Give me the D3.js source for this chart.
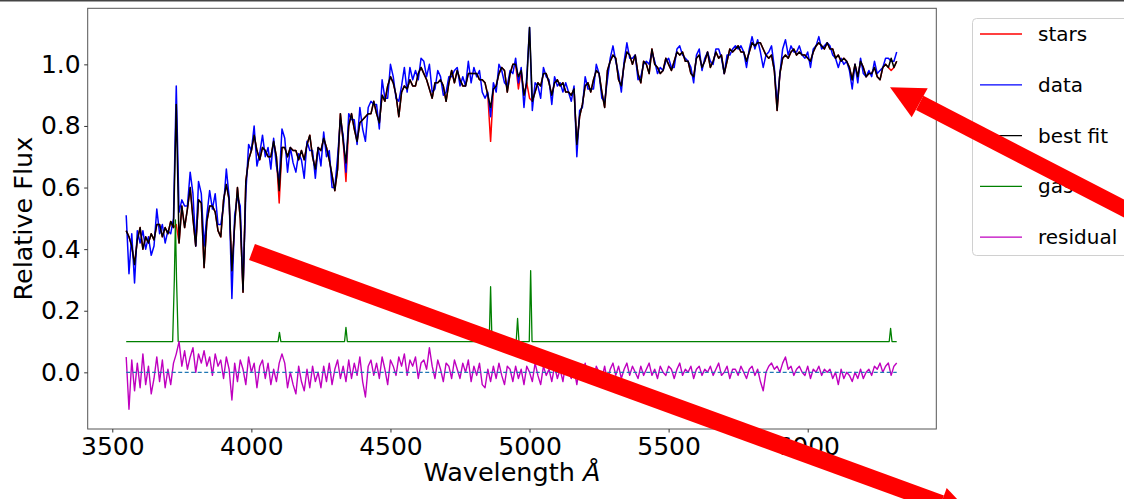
<!DOCTYPE html>
<html>
<head>
<meta charset="utf-8">
<script src="https://cdn.jsdelivr.net/npm/d3@7"></script>
<style>
  body { margin: 0; background: #fff; }
  svg { display: block; font-family: "DejaVu Sans", sans-serif; }
</style>
</head>
<body>
<svg id="chart" width="1124" height="499"></svg>
<script>
// Spectrum sampled every 10 A from 3550 to 6320 A
var waveStart = 3550, waveEnd = 6320, waveStep = 10;
var wave = d3.range(waveStart, waveEnd + 1, waveStep);

// Observed spectrum (blue)
var flux = [
  .51,.32,.45,.29,.46,.42,.46,.40,.44,.38,
  .41,.53,.45,.48,.42,.46,.45,.50,.93,.52,
  .56,.54,.54,.65,.58,.41,.62,.58,.41,.51,
  .59,.53,.58,.48,.48,.54,.66,.57,.24,.51,
  .57,.54,.27,.58,.74,.72,.80,.67,.71,.77,
  .70,.73,.66,.76,.67,.62,.79,.76,.65,.73,
  .68,.65,.71,.69,.63,.75,.72,.72,.63,.73,
  .67,.78,.70,.72,.60,.60,.70,.82,.77,.65,
  .84,.82,.82,.74,.86,.79,.75,.86,.88,.87,
  .87,.79,.95,.89,.89,1.00,.96,.89,.88,.93,
  .99,.91,.99,.95,.98,.95,1.02,1.01,.96,1.00,
  .91,.92,.98,.96,.90,.91,.96,.96,.98,.99,
  .93,.96,.93,1.01,.94,.99,.96,.98,.91,.89,
  .91,.83,.94,.91,1.00,.98,.94,.93,.98,.97,
  1.02,.94,.99,.86,.96,1.12,.85,.94,.93,.89,
  .99,.96,.95,.87,.96,.93,.94,.91,.94,.91,
  .88,.93,.70,.85,.86,.96,.92,.92,.92,1.00,
  .97,.89,.88,.95,1.02,1.06,1.01,.97,.91,1.01,
  1.07,1.02,1.02,1.03,.95,.96,1.00,1.01,1.00,1.04,
  1.01,.97,.99,.98,1.01,1.02,.99,.99,1.05,1.06,
  1.03,1.02,1.01,.99,.94,1.03,1.05,.98,1.02,1.04,
  1.01,1.00,1.05,1.05,1.02,.97,1.03,1.03,1.05,1.06,
  1.05,1.06,1.04,.99,1.05,1.09,1.05,1.08,1.04,.99,
  1.03,1.04,1.06,.99,.87,.97,1.05,1.08,1.03,1.06,
  1.04,1.04,1.06,1.03,1.02,1.04,.99,1.05,1.06,1.09,
  1.05,1.06,1.07,1.06,1.03,1.02,.99,1.02,1.00,1.01,
  .98,.92,1.00,.94,1.02,.97,.96,.98,.96,1.01,
  .97,.98,.99,1.02,1.02,1.01,1.01,1.04
];

// Best fit (black)
var bestFit = [
  .46,.44,.41,.35,.43,.47,.40,.44,.42,.45,
  .43,.48,.48,.44,.47,.45,.49,.47,.87,.42,
  .54,.47,.53,.60,.50,.41,.56,.55,.34,.49,
  .54,.54,.52,.46,.44,.56,.61,.56,.33,.48,
  .60,.50,.26,.62,.69,.72,.77,.72,.69,.73,
  .72,.70,.70,.75,.70,.59,.73,.73,.70,.73,
  .72,.72,.69,.72,.69,.74,.77,.70,.66,.73,
  .72,.76,.73,.69,.64,.59,.66,.84,.75,.68,
  .80,.84,.79,.75,.81,.82,.83,.84,.84,.88,
  .84,.81,.90,.88,.93,.96,.94,.90,.83,.91,
  .93,.92,.95,.93,.93,.97,.99,.97,.95,.92,
  .89,.94,.94,.95,.93,.88,.94,.98,.94,.98,
  .95,.93,.93,.97,.97,.97,.97,.95,.95,.94,
  .90,.86,.92,.93,.97,.99,.98,.91,.97,1.00,
  1.00,.96,.98,.90,.94,1.12,.88,.91,.94,.93,
  .97,.97,.94,.90,.94,.95,.93,.94,.91,.91,
  .90,.92,.74,.83,.87,.93,.94,.91,.95,.98,
  .97,.91,.86,.98,1.01,1.03,1.02,.95,.93,1.00,
  1.04,1.03,1.00,1.03,.97,.94,1.01,1.00,.97,1.05,
  1.00,.99,.97,.98,1.02,1.00,.98,1.01,1.04,1.03,
  1.04,1.01,1.01,.97,.96,1.02,1.03,.99,1.01,1.04,
  .99,1.01,1.04,1.02,1.03,.97,1.01,1.05,1.04,1.05,
  1.06,1.04,1.04,1.01,1.04,1.07,1.06,1.07,1.07,1.05,
  1.03,1.02,1.03,.98,.85,.97,1.02,1.03,1.02,1.04,
  1.05,1.03,1.04,1.03,1.03,1.02,1.01,1.04,1.06,1.07,
  1.06,1.05,1.07,1.05,1.05,1.02,1.03,1.01,1.02,1.01,
  .99,.95,1.00,.96,1.01,.99,.96,.97,.97,.99,
  .96,.95,.99,1.00,.99,1.02,.99,1.01
];

// Stellar component (red), only differs from best fit at the emission lines
var stars = [
  .46,.44,.41,.35,.43,.47,.40,.44,.42,.45,
  .43,.48,.48,.44,.47,.45,.49,.47,.48,.42,
  .54,.47,.53,.60,.50,.41,.56,.55,.34,.49,
  .54,.54,.52,.46,.44,.56,.61,.56,.33,.48,
  .60,.50,.26,.62,.69,.72,.77,.72,.69,.73,
  .72,.70,.70,.75,.70,.55,.73,.73,.70,.73,
  .72,.72,.69,.72,.69,.74,.77,.70,.66,.73,
  .72,.76,.73,.69,.64,.59,.66,.84,.75,.62,
  .80,.84,.79,.75,.81,.82,.83,.84,.84,.88,
  .84,.81,.90,.88,.93,.96,.94,.90,.83,.91,
  .93,.92,.95,.93,.93,.97,.99,.97,.95,.92,
  .89,.94,.94,.95,.93,.88,.94,.98,.94,.98,
  .95,.93,.93,.97,.97,.97,.97,.95,.95,.94,
  .90,.75,.92,.93,.97,.99,.98,.91,.97,1.00,
  1.00,.92,.98,.90,.94,.89,.88,.91,.94,.93,
  .97,.97,.94,.90,.94,.95,.93,.94,.91,.91,
  .90,.92,.74,.83,.87,.93,.94,.91,.95,.98,
  .97,.91,.86,.98,1.01,1.03,1.02,.95,.93,1.00,
  1.04,1.03,1.00,1.03,.97,.94,1.01,1.00,.97,1.05,
  1.00,.99,.97,.98,1.02,1.00,.98,1.01,1.04,1.03,
  1.04,1.01,1.01,.97,.96,1.02,1.03,.99,1.01,1.04,
  .99,1.01,1.04,1.02,1.03,.97,1.01,1.05,1.04,1.05,
  1.06,1.04,1.04,1.01,1.04,1.07,1.06,1.07,1.07,1.05,
  1.03,1.02,1.03,.98,.85,.97,1.02,1.03,1.02,1.04,
  1.05,1.03,1.04,1.03,1.03,1.02,1.01,1.04,1.06,1.07,
  1.06,1.05,1.07,1.05,1.05,1.02,1.03,1.01,1.02,1.01,
  .99,.95,1.00,.96,1.01,.99,.96,.97,.97,.99,
  .96,.95,.99,1.00,.99,.98,.99,1.01
];

// Residual (magenta)
var residual = [
  .05,-.12,.04,-.06,.03,-.05,.06,-.04,.02,-.07,
  -.02,.05,-.03,.04,-.05,.01,-.04,.03,.06,.10,
  .02,.07,.01,.05,.08,.00,.06,.03,.07,.02,
  .05,-.01,.06,.02,.04,-.02,.05,.01,-.09,.03,
  -.03,.04,.01,-.04,.05,.00,.03,-.05,.02,.04,
  -.02,.03,-.04,.01,-.03,.03,.06,.03,-.05,.00,
  -.04,-.07,.02,-.03,-.06,.01,-.05,.02,-.03,.00,
  -.05,.02,-.03,.03,-.04,.01,.04,-.02,.02,-.03,
  .04,-.02,.03,-.01,.05,-.03,-.08,.02,.04,-.01,
  .03,-.02,.05,.01,-.04,.04,.02,-.01,.05,.02,
  .06,-.01,.04,.02,.05,-.02,.03,.04,.01,.08,
  .02,-.02,.04,.01,-.03,.03,.02,-.02,.04,.01,
  -.02,.03,.00,.04,-.03,.02,-.01,.03,-.04,-.05,
  .01,-.03,.02,-.02,.03,-.01,-.04,.02,.01,-.03,
  .02,-.02,.01,-.04,.02,.00,-.03,.03,-.01,-.04,
  .02,-.01,.01,-.03,.02,-.02,.01,-.03,.03,.00,
  -.02,.01,-.04,.02,-.01,.03,-.02,.01,-.03,.02,
  .00,-.02,.02,-.03,.01,.03,-.01,.02,-.02,.01,
  .03,-.01,.02,.00,-.02,.02,-.01,.01,.03,-.01,
  .01,-.02,.02,.00,-.01,.02,.01,-.02,.01,.03,
  -.01,.01,.00,.02,-.02,.01,.02,-.01,.01,.00,
  .02,-.01,.01,.03,-.01,.00,.02,-.02,.01,.01,
  -.01,.02,.00,-.02,.01,.02,-.01,.01,-.03,-.06,
  .00,.02,.03,.01,.02,.00,.03,.05,.01,.02,
  -.01,.01,.02,.00,-.01,.02,-.02,.01,.00,.02,
  -.01,.01,.00,.01,-.02,.00,-.04,.01,-.02,.00,
  -.01,-.03,.00,-.02,.01,-.02,.00,.01,-.01,.02,
  .01,.03,.00,.02,.03,-.01,.02,.03
];

// Gas emission (green), offset to 0.1
var gasWave = [3550, 3717, 3723, 3727, 3731, 3737, 4096, 4101, 4106, 4335, 4340, 4345,
               4855, 4860, 4865, 4952, 4957, 4962, 4999, 5004, 5009, 6293, 6298, 6303, 6320];
var gasFlux = [0.1, 0.1, 0.3, 0.495, 0.3, 0.1, 0.1, 0.13, 0.1, 0.1, 0.146, 0.1,
               0.1, 0.278, 0.1, 0.1, 0.175, 0.1, 0.1, 0.33, 0.1, 0.1, 0.143, 0.1, 0.1];

var xTicks = [3500, 4000, 4500, 5000, 5500, 6000];
var yTicks = [0.0, 0.2, 0.4, 0.6, 0.8, 1.0];
var legendLabels = ["stars", "data", "best fit", "gas", "residual"];
var legendColors = ["#ff0000", "#0000ff", "#000000", "#008000", "#bf00bf"];

// Layout ===============================================================
var svg = d3.select("#chart");
var plotL = 87.7, plotR = 936.3, plotT = 8.3, plotB = 429;

var x = d3.scaleLinear().domain([3411.6, 6462.3]).range([plotL, plotR]);
var y = d3.scaleLinear().domain([-0.184, 1.182]).range([plotB, plotT]);

// thin dark rule at the very top of the screenshot
svg.append("rect").attr("x", 0).attr("y", 0).attr("width", 1124).attr("height", 1.5).attr("fill", "#444");

var lineOf = function(vals) {
  return d3.line().x(function(d, i) { return x(wave[i]); }).y(function(d) { return y(d); })(vals);
};

var plot = svg.append("g").attr("fill", "none").attr("stroke-width", 1.5).attr("stroke-linejoin", "round");

plot.append("path").attr("d", lineOf(stars)).attr("stroke", legendColors[0]);
plot.append("path").attr("d", lineOf(flux)).attr("stroke", legendColors[1]);
plot.append("path").attr("d", lineOf(bestFit)).attr("stroke", legendColors[2]);

var gasLine = d3.line().x(function(d, i) { return x(gasWave[i]); }).y(function(d) { return y(d); });
plot.append("path").attr("d", gasLine(gasFlux)).attr("stroke", legendColors[3]).attr("stroke-width", 1.3);

plot.append("path").attr("d", lineOf(residual)).attr("stroke", legendColors[4]).attr("stroke-width", 1.4);

// zero line
plot.append("line")
  .attr("x1", x(waveStart)).attr("x2", x(waveEnd))
  .attr("y1", y(0)).attr("y2", y(0))
  .attr("stroke", "#1f77b4").attr("stroke-width", 1.2).attr("stroke-dasharray", "4,2.5");

// frame
svg.append("rect")
  .attr("x", plotL).attr("y", plotT).attr("width", plotR - plotL).attr("height", plotB - plotT)
  .attr("fill", "none").attr("stroke", "#555").attr("stroke-width", 1);

// Axes
var xAxis = svg.append("g").attr("transform", "translate(0," + plotB + ")")
  .call(d3.axisBottom(x).tickValues(xTicks).tickSize(3.5).tickPadding(4.5).tickFormat(d3.format("d")));
var yAxis = svg.append("g").attr("transform", "translate(" + plotL + ",0)")
  .call(d3.axisLeft(y).tickValues(yTicks).tickSize(3.5).tickPadding(3.5).tickFormat(d3.format(".1f")));

[xAxis, yAxis].forEach(function(a) {
  a.attr("font-size", 25).attr("font-family", "DejaVu Sans");
  a.select(".domain").remove();
  a.selectAll("line").attr("stroke", "#333");
  a.selectAll("text").attr("fill", "#000");
});

var xl = svg.append("text").attr("x", (plotL + plotR) / 2).attr("y", 481)
  .attr("text-anchor", "middle").attr("font-size", 25.5).attr("fill", "#000");
xl.append("tspan").text("Wavelength ");
xl.append("tspan").attr("font-style", "italic").text("\u00C5");

svg.append("text")
  .attr("transform", "translate(32," + ((plotT + plotB) / 2) + ") rotate(-90)")
  .attr("text-anchor", "middle").attr("font-size", 25.5).attr("fill", "#000")
  .text("Relative Flux");

// Legend
var legend = svg.append("g");
legend.append("rect")
  .attr("x", 972.5).attr("y", 18.5).attr("width", 170).attr("height", 237)
  .attr("rx", 4).attr("fill", "#fff").attr("fill-opacity", 0.8)
  .attr("stroke", "#d0d0d0").attr("stroke-width", 1);

legendLabels.forEach(function(lab, i) {
  var ly = 34 + i * 50.8;
  legend.append("line").attr("x1", 980).attr("x2", 1022).attr("y1", ly).attr("y2", ly)
    .attr("stroke", legendColors[i]).attr("stroke-width", 1.3);
  legend.append("text").attr("x", 1038).attr("y", ly + 7)
    .attr("font-size", 20).attr("fill", "#000").text(lab);
});

// Red annotation arrows drawn over the figure
var arrows = svg.append("g").attr("fill", "#ff0000").attr("stroke", "none");

arrows.append("line").attr("x1", 919.7).attr("y1", 102.8).attr("x2", 1150).attr("y2", 222)
  .attr("stroke", "#ff0000").attr("stroke-width", 16);
arrows.append("polygon").attr("points", "890,87.3 911.7,117.3 927.7,88.3");

arrows.append("line").attr("x1", 252).attr("y1", 252).attr("x2", 941).attr("y2", 503.5)
  .attr("stroke", "#ff0000").attr("stroke-width", 17);
arrows.append("polygon").attr("points", "972,514.8 946.7,488 935.3,519");
</script>
</body>
</html>
